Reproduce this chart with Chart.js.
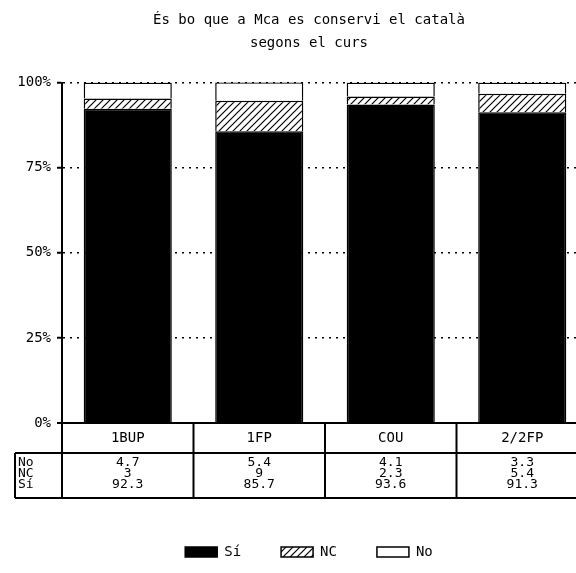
<!DOCTYPE html>
<html>
<head>
<meta charset="utf-8">
<script src="https://cdn.jsdelivr.net/npm/chart.js@4/dist/chart.umd.min.js"></script>
<style>
html,body{margin:0;padding:0;background:#fff;overflow:hidden;}
#wrap{width:576px;height:573px;overflow:hidden;}
canvas{display:block;}
</style>
</head>
<body>
<div id="wrap"><canvas id="c" width="588" height="573"></canvas></div>
<script>
const titleLines = ['És bo que a Mca es conservi el català', 'segons el curs'];
const categories = ['1BUP', '1FP', 'COU', '2/2FP'];
const siValues = [92.3, 85.7, 93.6, 91.3];
const ncValues = [3, 9, 2.3, 5.4];
const noValues = [4.7, 5.4, 4.1, 3.3];
const seriesNames = ['Sí', 'NC', 'No'];
const yTickValues = [0, 25, 50, 75, 100];

const FONT = "'DejaVu Sans Mono', 'Liberation Mono', monospace";

function hatch() {
  const s = 7;
  const p = document.createElement('canvas');
  p.width = s; p.height = s;
  const g = p.getContext('2d');
  g.fillStyle = '#fff'; g.fillRect(0, 0, s, s);
  g.strokeStyle = '#000'; g.lineWidth = 1.2;
  g.beginPath();
  g.moveTo(0, s); g.lineTo(s, 0);
  g.moveTo(-1, 1); g.lineTo(1, -1);
  g.moveTo(s - 1, s + 1); g.lineTo(s + 1, s - 1);
  g.stroke();
  return g.createPattern(p, 'repeat');
}

const shiftPlugin = {
  id: 'shiftBoxes',
  afterLayout(chart) {
    const dx = 15;
    [chart.titleBlock, chart.legend].forEach(b => {
      if (b) { b.left += dx; b.right += dx; }
    });
  }
};

const tablePlugin = {
  id: 'dataTable',
  afterDraw(chart) {
    const ctx = chart.ctx;
    const x = chart.scales.x;
    const a = chart.chartArea;
    const n = categories.length;
    const half = (x.getPixelForValue(1) - x.getPixelForValue(0)) / 2;
    const top = a.bottom;
    const headBottom = top + 30;
    const tableBottom = top + 75;
    const labelLeft = 15;
    ctx.save();
    ctx.strokeStyle = '#000';
    ctx.lineWidth = 2;
    ctx.beginPath();
    ctx.moveTo(a.left, top); ctx.lineTo(chart.width, top);
    ctx.moveTo(labelLeft, headBottom); ctx.lineTo(chart.width, headBottom);
    ctx.moveTo(labelLeft, tableBottom); ctx.lineTo(chart.width, tableBottom);
    ctx.moveTo(labelLeft, headBottom); ctx.lineTo(labelLeft, tableBottom);
    ctx.moveTo(a.left, top); ctx.lineTo(a.left, tableBottom);
    for (let i = 0; i < n; i++) {
      const r = x.getPixelForValue(i) + half;
      ctx.moveTo(r, top); ctx.lineTo(r, tableBottom);
    }
    ctx.stroke();
    ctx.fillStyle = '#000';
    ctx.textAlign = 'center';
    ctx.textBaseline = 'middle';
    const rows = [noValues, ncValues, siValues];
    const rowNames = ['No', 'NC', 'Sí'];
    for (let i = 0; i < n; i++) {
      const cx = x.getPixelForValue(i);
      ctx.font = '14px ' + FONT;
      ctx.fillText(categories[i], cx, top + 15);
      ctx.font = '13px ' + FONT;
      rows.forEach((vals, r) => {
        ctx.fillText(String(vals[i]), cx, headBottom + 10 + r * 11);
      });
    }
    ctx.textAlign = 'left';
    ctx.font = '13px ' + FONT;
    rowNames.forEach((nm, r) => ctx.fillText(nm, labelLeft + 3, headBottom + 10 + r * 11));
    ctx.restore();
  }
};

const pat = hatch();
new Chart(document.getElementById('c'), {
  type: 'bar',
  data: {
    labels: categories,
    datasets: [
      { label: seriesNames[0], data: siValues, backgroundColor: '#000', borderColor: '#000', borderWidth: 1.5 },
      { label: seriesNames[1], data: ncValues, backgroundColor: pat, borderColor: '#000', borderWidth: 1.5 },
      { label: seriesNames[2], data: noValues, backgroundColor: '#fff', borderColor: '#000', borderWidth: 1.5 }
    ]
  },
  options: {
    responsive: false,
    animation: false,
    layout: { padding: { top: 0, right: 0, bottom: 4, left: 0 } },
    datasets: { bar: { categoryPercentage: 1, barPercentage: 0.67 } },
    scales: {
      x: {
        stacked: true,
        grid: { display: false },
        border: { display: false },
        ticks: { display: false },
        afterFit(s) { s.height = 82; }
      },
      y: {
        stacked: true,
        min: 0, max: 100,
        afterBuildTicks(s) { s.ticks = yTickValues.map(v => ({ value: v })); },
        afterFit(s) { s.width = 62; },
        ticks: {
          color: '#000',
          padding: 6,
          font: { family: FONT, size: 14 },
          callback: v => v + '%'
        },
        grid: {
          color: '#000',
          lineWidth: c => (c.tick && c.tick.value === 0 ? 0 : 1.5),
          tickBorderDash: [],
          tickLength: 5,
          tickColor: '#000',
          tickWidth: 2
        },
        border: { display: true, color: '#000', width: 2, dash: [2, 5] }
      }
    },
    plugins: {
      title: {
        display: true,
        text: titleLines,
        color: '#000',
        font: { family: FONT, size: 14, weight: 'normal', lineHeight: 1.7 },
        padding: { top: 8, bottom: 27 }
      },
      legend: {
        position: 'bottom',
        labels: {
          color: '#000',
          boxWidth: 32,
          boxHeight: 10,
          padding: 40,
          font: { family: FONT, size: 14 }
        }
      },
      tooltip: { enabled: false }
    }
  },
  plugins: [shiftPlugin, tablePlugin]
});
</script>
</body>
</html>
